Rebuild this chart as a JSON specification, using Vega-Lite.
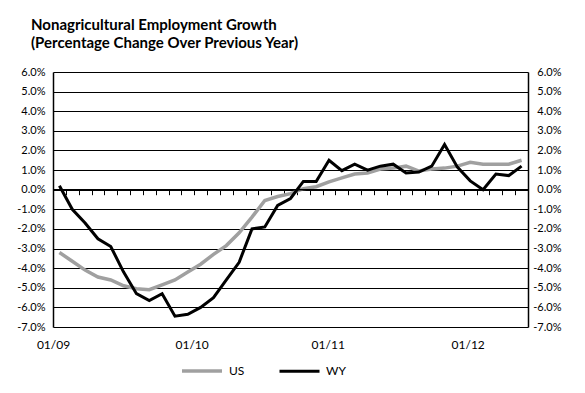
{
  "$schema": "https://vega.github.io/schema/vega-lite/v6.json",
  "width": 475,
  "height": 255,
  "autosize": {"type": "none"},
  "padding": {"left": 53, "top": 72, "right": 57, "bottom": 66},
  "background": "white",
  "title": {
    "text": ["Nonagricultural Employment Growth", "(Percentage Change Over Previous Year)"],
    "anchor": "start",
    "frame": "group",
    "font": "Lato",
    "fontSize": 15,
    "fontWeight": "bold",
    "color": "black",
    "dx": -22,
    "lineHeight": 18,
    "offset": 15
  },
  "config": {
    "view": {"stroke": null},
    "axis": {"labelFont": "Lato", "labelFontSize": 11, "labelColor": "black"}
  },
  "resolve": {"axis": {"x": "independent", "y": "independent"}},
  "layer": [
    {
      "data": {
        "values": [
          {"m": 0, "date": "01/09", "US": -3.2, "WY": 0.2},
          {"m": 1, "date": "02/09", "US": -3.65, "WY": -1.0},
          {"m": 2, "date": "03/09", "US": -4.1, "WY": -1.7},
          {"m": 3, "date": "04/09", "US": -4.45, "WY": -2.5},
          {"m": 4, "date": "05/09", "US": -4.6, "WY": -2.9},
          {"m": 5, "date": "06/09", "US": -4.9, "WY": -4.2},
          {"m": 6, "date": "07/09", "US": -5.05, "WY": -5.3},
          {"m": 7, "date": "08/09", "US": -5.1, "WY": -5.65},
          {"m": 8, "date": "09/09", "US": -4.85, "WY": -5.3},
          {"m": 9, "date": "10/09", "US": -4.6, "WY": -6.45},
          {"m": 10, "date": "11/09", "US": -4.2, "WY": -6.35},
          {"m": 11, "date": "12/09", "US": -3.8, "WY": -6.0},
          {"m": 12, "date": "01/10", "US": -3.3, "WY": -5.5},
          {"m": 13, "date": "02/10", "US": -2.85, "WY": -4.6},
          {"m": 14, "date": "03/10", "US": -2.2, "WY": -3.7},
          {"m": 15, "date": "04/10", "US": -1.4, "WY": -2.0},
          {"m": 16, "date": "05/10", "US": -0.55, "WY": -1.9},
          {"m": 17, "date": "06/10", "US": -0.35, "WY": -0.8},
          {"m": 18, "date": "07/10", "US": -0.2, "WY": -0.45},
          {"m": 19, "date": "08/10", "US": 0.05, "WY": 0.42},
          {"m": 20, "date": "09/10", "US": 0.15, "WY": 0.42},
          {"m": 21, "date": "10/10", "US": 0.4, "WY": 1.5},
          {"m": 22, "date": "11/10", "US": 0.6, "WY": 0.97},
          {"m": 23, "date": "12/10", "US": 0.8, "WY": 1.3},
          {"m": 24, "date": "01/11", "US": 0.85, "WY": 1.0},
          {"m": 25, "date": "02/11", "US": 1.05, "WY": 1.2},
          {"m": 26, "date": "03/11", "US": 1.1, "WY": 1.3},
          {"m": 27, "date": "04/11", "US": 1.2, "WY": 0.85},
          {"m": 28, "date": "05/11", "US": 0.95, "WY": 0.9},
          {"m": 29, "date": "06/11", "US": 1.05, "WY": 1.2},
          {"m": 30, "date": "07/11", "US": 1.1, "WY": 2.3},
          {"m": 31, "date": "08/11", "US": 1.2, "WY": 1.15},
          {"m": 32, "date": "09/11", "US": 1.4, "WY": 0.45},
          {"m": 33, "date": "10/11", "US": 1.3, "WY": 0.0},
          {"m": 34, "date": "11/11", "US": 1.3, "WY": 0.8},
          {"m": 35, "date": "12/11", "US": 1.3, "WY": 0.72},
          {"m": 36, "date": "01/12", "US": 1.5, "WY": 1.2}
        ]
      },
      "transform": [{"fold": ["US", "WY"], "as": ["series", "value"]}],
      "mark": {"type": "line", "strokeJoin": "miter"},
      "encoding": {
        "x": {
          "field": "m",
          "type": "quantitative",
          "scale": {"domain": [-0.5, 36.5], "nice": false, "zero": false},
          "axis": {
            "values": [-0.5, 10.3, 20.9, 31.8],
            "labelExpr": "datum.value < 0 ? '01/09' : datum.value < 15 ? '01/10' : datum.value < 25 ? '01/11' : '01/12'",
            "labelFlush": false,
            "labelFontSize": 12,
            "labelPadding": 12,
            "domain": false,
            "ticks": false,
            "grid": false,
            "title": null
          }
        },
        "y": {
          "field": "value",
          "type": "quantitative",
          "scale": {"domain": [-7, 6], "nice": false, "zero": false},
          "axis": {
            "values": [-7, -6, -5, -4, -3, -2, -1, 0, 1, 2, 3, 4, 5, 6],
            "labelExpr": "(datum.value < 0 ? '-' : '') + format(abs(datum.value), '.1f') + '%'",
            "grid": true,
            "gridColor": "black",
            "gridOpacity": 1,
            "gridWidth": 1.2,
            "domain": true,
            "domainColor": "black",
            "domainWidth": 1.5,
            "ticks": false,
            "labelPadding": 8,
            "title": null
          }
        },
        "color": {
          "field": "series",
          "type": "nominal",
          "scale": {"domain": ["US", "WY"], "range": ["#a0a0a0", "#000000"]},
          "legend": {
            "orient": "none",
            "legendX": 127,
            "legendY": 277,
            "direction": "horizontal",
            "title": null,
            "symbolType": "stroke",
            "symbolSize": 1600,
            "symbolStrokeWidth": 4,
            "labelFont": "Lato",
            "labelFontSize": 12,
            "labelColor": "black",
            "labelOffset": 5,
            "columnPadding": 28
          }
        },
        "strokeWidth": {
          "field": "series",
          "type": "nominal",
          "scale": {"domain": ["US", "WY"], "range": [3.5, 3]},
          "legend": null
        }
      }
    },
    {
      "data": {"values": [{}]},
      "mark": {"type": "rule", "color": "black", "strokeWidth": 1.5},
      "encoding": {
        "x": {
          "datum": -0.5,
          "type": "quantitative",
          "axis": {
            "orient": "bottom",
            "offset": -137.3,
            "values": [-0.5, 0.5, 1.5, 2.5, 3.5, 4.5, 5.5, 6.5, 7.5, 8.5, 9.5, 10.5, 11.5, 12.5, 13.5, 14.5, 15.5, 16.5, 17.5, 18.5, 19.5, 20.5, 21.5, 22.5, 23.5, 24.5, 25.5, 26.5, 27.5, 28.5, 29.5, 30.5, 31.5, 32.5, 33.5, 34.5, 35.5, 36.5],
            "labels": false,
            "domain": false,
            "ticks": true,
            "tickSize": 5,
            "tickColor": "black",
            "tickWidth": 1,
            "grid": false,
            "title": null
          }
        },
        "x2": {"datum": 36.5},
        "y": {
          "datum": 0,
          "type": "quantitative",
          "axis": {
            "orient": "right",
            "values": [-7, -6, -5, -4, -3, -2, -1, 0, 1, 2, 3, 4, 5, 6],
            "labelExpr": "(datum.value < 0 ? '-' : '') + format(abs(datum.value), '.1f') + '%'",
            "labelAlign": "right",
            "labelPadding": 33,
            "grid": false,
            "domain": true,
            "domainColor": "black",
            "domainWidth": 1.5,
            "ticks": false,
            "title": null
          }
        }
      }
    }
  ]
}
